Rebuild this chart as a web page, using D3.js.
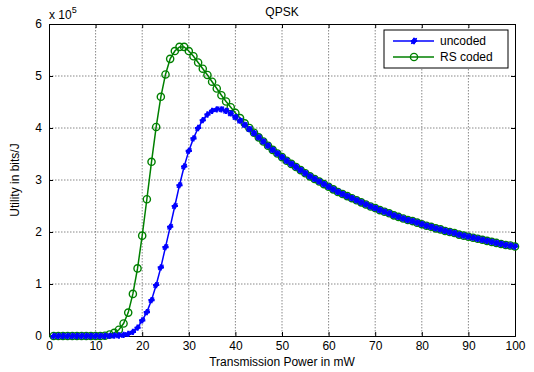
<!DOCTYPE html>
<html><head><meta charset="utf-8">
<script src="https://cdn.jsdelivr.net/npm/d3@7"></script>
<style>body{margin:0;background:#fff}svg{display:block}text{font-family:"Liberation Sans",Arial,sans-serif}</style>
</head><body><svg id="c" width="534" height="372"></svg>
<script>
const powers = d3.range(1, 101);
// Utility values in units of 1e5 bits/J, x = 1..100 mW
const uncoded = [0,0,0,0,0,0,0,0,0,0,
 0,0,0.003,0.006,0.01,0.02,0.04,0.08,0.16,0.3,
 0.46,0.69,0.98,1.32,1.71,2.10,2.50,2.90,3.26,3.56,
 3.80,4.00,4.15,4.26,4.33,4.36,4.36,4.33,4.28,4.21,
 4.14,4.06,3.98,3.90,3.82,3.74,3.66,3.58,3.51,3.44,
 3.37,3.31,3.25,3.19,3.13,3.07,3.02,2.97,2.92,2.87,
 2.82,2.77,2.73,2.69,2.65,2.61,2.57,2.53,2.49,2.46,
 2.42,2.39,2.36,2.32,2.29,2.26,2.23,2.21,2.18,2.15,
 2.12,2.10,2.07,2.05,2.02,2.00,1.98,1.95,1.93,1.91,
 1.89,1.87,1.85,1.83,1.81,1.79,1.77,1.75,1.74,1.72];
const rsCoded = [0,0,0,0,0,0,0,0,0,0,
 0,0.005,0.03,0.06,0.12,0.24,0.45,0.81,1.30,1.93,
 2.63,3.35,4.02,4.60,5.03,5.33,5.48,5.56,5.56,5.48,
 5.38,5.26,5.14,5.02,4.89,4.76,4.63,4.51,4.40,4.29,
 4.19,4.09,4.00,3.91,3.82,3.74,3.66,3.58,3.51,3.44,
 3.37,3.31,3.25,3.19,3.13,3.07,3.02,2.97,2.92,2.87,
 2.82,2.77,2.73,2.69,2.65,2.61,2.57,2.53,2.49,2.46,
 2.42,2.39,2.36,2.32,2.29,2.26,2.23,2.21,2.18,2.15,
 2.12,2.10,2.07,2.05,2.02,2.00,1.98,1.95,1.93,1.91,
 1.89,1.87,1.85,1.83,1.81,1.79,1.77,1.75,1.74,1.72];
const xTicks = [0,10,20,30,40,50,60,70,80,90,100];
const yTicks = [0,1,2,3,4,5,6];
const seriesNames = ["uncoded", "RS coded"];

const svg = d3.select("#c");
const L = 49, R = 515, T = 24, B = 336;
const x = d3.scaleLinear().domain([0, 100]).range([L, R]);
const y = d3.scaleLinear().domain([0, 6]).range([B, T]);

// grid
const grid = svg.append("g").attr("stroke", "#888").attr("stroke-dasharray", "1.5,1.5").attr("stroke-width", 1);
xTicks.slice(1, -1).forEach(t => grid.append("line").attr("x1", x(t)).attr("x2", x(t)).attr("y1", T).attr("y2", B));
yTicks.slice(1, -1).forEach(t => grid.append("line").attr("x1", L).attr("x2", R).attr("y1", y(t)).attr("y2", y(t)));

// axes (ticks inward)
const xa = svg.append("g").attr("transform", `translate(0,${B})`)
  .call(d3.axisBottom(x).tickValues(xTicks).tickSize(-4).tickPadding(5).tickFormat(d3.format("d")));
const xaTop = svg.append("g").attr("transform", `translate(0,${T})`)
  .call(d3.axisTop(x).tickValues(xTicks).tickSize(-4).tickFormat(""));
const ya = svg.append("g").attr("transform", `translate(${L},0)`)
  .call(d3.axisLeft(y).tickValues(yTicks).tickSize(-4).tickPadding(7).tickFormat(d3.format("d")));
const yaR = svg.append("g").attr("transform", `translate(${R},0)`)
  .call(d3.axisRight(y).tickValues(yTicks).tickSize(-4).tickFormat(""));
[xa, xaTop, ya, yaR].forEach(g => {
  g.select(".domain").attr("stroke", "#000").attr("stroke-width", 1);
  g.selectAll(".tick line").attr("stroke", "#000");
  g.selectAll("text").attr("font-size", 12).attr("fill", "#000").attr("font-family", "Liberation Sans, Arial, sans-serif");
});

const line = d3.line().x((d, i) => x(powers[i])).y(d => y(d));

// RS coded (green circles)
const gG = svg.append("g");
gG.append("path").datum(rsCoded).attr("d", line).attr("fill", "none").attr("stroke", "#008000").attr("stroke-width", 1.5);
gG.selectAll("circle").data(rsCoded).join("circle")
  .attr("cx", (d, i) => x(powers[i])).attr("cy", d => y(d)).attr("r", 3.6)
  .attr("fill", "none").attr("stroke", "#008000").attr("stroke-width", 1.4);

// uncoded (blue markers)
const plus = d3.symbol().type(d3.symbolCross).size(22);
const gB = svg.append("g");
gB.append("path").datum(uncoded).attr("d", line).attr("fill", "none").attr("stroke", "#0000ff").attr("stroke-width", 1.5);
gB.selectAll("path.m").data(uncoded).join("path").attr("class", "m")
  .attr("transform", (d, i) => `translate(${x(powers[i])},${y(d)}) rotate(45)`)
  .attr("d", d3.symbol().type(d3.symbolDiamond).size(14)).attr("fill", "#0000ff").attr("stroke", "#0000ff").attr("stroke-width", 0.8);
gB.selectAll("path.m2").data(uncoded).join("path").attr("class", "m2")
  .attr("transform", (d, i) => `translate(${x(powers[i])},${y(d)})`)
  .attr("d", plus).attr("fill", "#0000ff");

// title and labels
svg.append("text").attr("x", 282).attr("y", 16).attr("text-anchor", "middle").attr("font-size", 12).text("QPSK");
svg.append("text").attr("x", 282).attr("y", 366).attr("text-anchor", "middle").attr("font-size", 12).text("Transmission Power in mW");
svg.append("text").attr("transform", "translate(19,180) rotate(-90)").attr("text-anchor", "middle").attr("font-size", 12).text("Utility in bits/J");
const ex = svg.append("text").attr("x", 49).attr("y", 19).attr("font-size", 12);
ex.append("tspan").text("x 10");
ex.append("tspan").attr("dy", -6).attr("font-size", 9).text("5");

// legend
const lg = svg.append("g");
lg.append("rect").attr("x", 384).attr("y", 30).attr("width", 124).attr("height", 38).attr("fill", "#fff").attr("stroke", "#000");
const ly = [41, 57];
lg.append("line").attr("x1", 393).attr("x2", 434).attr("y1", ly[0]).attr("y2", ly[0]).attr("stroke", "#0000ff").attr("stroke-width", 1.5);
lg.append("path").attr("transform", `translate(414,${ly[0]}) rotate(45)`).attr("d", d3.symbol().type(d3.symbolDiamond).size(14)).attr("fill", "#0000ff").attr("stroke", "#0000ff");
lg.append("path").attr("transform", `translate(414,${ly[0]})`).attr("d", plus).attr("fill", "#0000ff");
lg.append("line").attr("x1", 393).attr("x2", 434).attr("y1", ly[1]).attr("y2", ly[1]).attr("stroke", "#008000").attr("stroke-width", 1.5);
lg.append("circle").attr("cx", 414).attr("cy", ly[1]).attr("r", 3.6).attr("fill", "none").attr("stroke", "#008000").attr("stroke-width", 1.4);
seriesNames.forEach((n, i) => lg.append("text").attr("x", 440).attr("y", ly[i] + 4).attr("font-size", 12).text(n));
</script></body></html>
